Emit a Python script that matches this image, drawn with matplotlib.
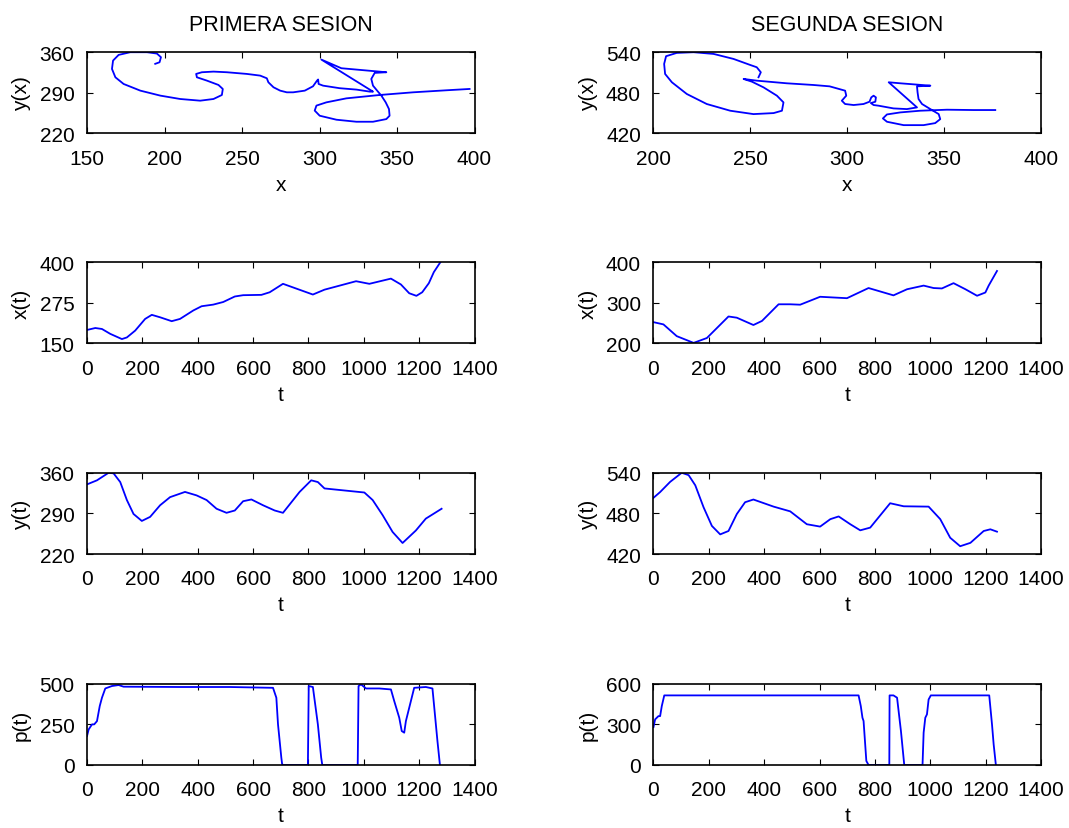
import numpy as np
import matplotlib.pyplot as plt

plt.rcParams['font.family'] = ['Liberation Sans', 'DejaVu Sans']

## Primera sesion: trazo de la firma (x, y)
firma1_x = [194, 196.8, 197.7, 195.1, 188.7, 177.9, 170.4, 166.8, 166.1, 168.3, 173.6, 184.4,
            197.3, 210.1, 223, 231.6, 237, 237.6, 234.8, 227.3, 220.9, 220.4, 224.1, 231.6,
            240.2, 253.1, 261.7, 266, 267, 270.3, 274.6, 278.9, 283, 290.5, 295.8, 298.4,
            299.1, 299.4, 302.3, 313, 323.8, 332.4, 334.5, 301.2, 314.1, 343.1, 335.6, 333.4,
            334.5, 337.7, 339.9, 342.7, 344.8, 345.2, 343.1, 334.5, 323.8, 310.9, 300.1, 296.9,
            298, 304.4, 317.3, 338.8, 360.3, 381.8, 396.8]
firma1_y = [340, 342.7, 351.4, 357.7, 360, 360, 355.4, 345.6, 331.2, 316.8, 305.3, 293.8,
            285.2, 279.4, 276.5, 279.4, 286.3, 296.7, 303.6, 311.1, 316.8, 322.6, 325.5, 326.6,
            325.5, 322.6, 319.7, 315.1, 308.2, 299.6, 293.8, 290.9, 290.9, 293.8, 301.3, 311.1,
            313, 305.3, 302.4, 298, 295.6, 292.1, 292.1, 347.3, 332.4, 325.5, 324.4, 314,
            302.4, 292.1, 285.2, 273.6, 262.1, 250.6, 244.8, 240.2, 240.2, 243.7, 250.6, 259.4,
            268, 273.6, 280.5, 286.3, 290.9, 294.4, 296.7]

## Primera sesion: x(t), y(t), p(t)
tx1 = [0, 30, 54, 84, 126, 144, 174, 210, 234, 264, 306, 336, 384, 414, 456, 492, 534, 564,
       630, 660, 708, 816, 858, 972, 1020, 1098, 1134, 1164, 1190, 1211, 1235, 1253, 1277]
xt1 = [191, 197, 194, 179, 163, 168, 189, 225, 237.5, 230, 218, 225, 251, 264, 269, 277, 294, 298,
       299, 307, 333, 300, 315, 341, 333, 349, 331, 304, 296, 307, 335, 369, 400]
ty1 = [0, 36, 78, 96, 120, 144, 168, 198, 228, 264, 300, 354, 396, 432, 468, 504, 534, 564, 594,
       636, 678, 708, 768, 810, 834, 858, 1002, 1032, 1068, 1104, 1140, 1188, 1224, 1281]
yt1 = [340, 347, 360, 359, 344, 313, 289, 277, 284, 304, 318, 327, 321, 313, 298, 291, 295, 311, 314,
       304, 295, 291, 327, 347, 344, 333, 326, 313, 287, 258, 239, 260.5, 281, 298]
tp1 = [0, 6, 18, 26, 36, 46, 54, 66, 90, 114, 132, 336, 516, 672, 684, 690, 702, 705, 710, 798,
       801, 816, 834, 846, 850, 978, 981, 990, 1008, 1056, 1098, 1110, 1128, 1137, 1146, 1152,
       1170, 1182, 1224, 1248, 1266, 1275]
pt1 = [178, 219, 250, 250, 270, 363, 414, 471, 486, 492, 482, 480, 480, 475, 414, 250, 45, 4, 0, 0,
       486, 480, 250, 45, 0, 0, 486, 496, 471, 471, 465, 393, 291, 209, 199, 270,
       393, 475, 480, 471, 148, 0]

## Segunda sesion: trazo de la firma (x, y)
firma2_x = [254.2, 255.4, 253.3, 249.9, 241.3, 231, 220.7, 212, 206.5, 205.5, 206, 209.5, 217.2,
            227.5, 239.6, 251.6, 262, 266.3, 267.1, 263.7, 256.8, 250.8, 246.5, 253.3, 268.8,
            282.6, 290.9, 298.9, 299.5, 297.2, 298.9, 303.3, 308.4, 311.5, 312.4, 313.6, 314.8,
            314.5, 312.2, 313.6, 316.2, 323.9, 330.8, 336, 321.4, 327.4, 342.9, 336, 336.3,
            336.8, 338.6, 342.9, 347.2, 348, 345.4, 339.4, 329.1, 320.5, 318.4, 320.5, 327.4,
            337.7, 351.5, 365.2, 376.4]
firma2_y = [503, 510.4, 517.8, 521.2, 530.1, 537.5, 540, 539, 534.1, 522.7, 507.9, 495.6, 478.3,
            463.5, 453.6, 448.6, 450.1, 453.6, 465.9, 475.8, 488.1, 496.5, 500.5, 498, 494.1,
            491.6, 489.6, 483.2, 475.8, 468.4, 463.5, 462, 463.5, 466.9, 473.3, 475.8, 473.3,
            466.9, 464.9, 462, 461, 457, 456, 458.5, 495.6, 494.1, 490.6, 489.6, 480.7,
            470.9, 463.5, 456, 448.6, 441.2, 435.3, 432.3, 432.3, 437.3, 442.2, 448.1, 451.1,
            453.6, 455.1, 454.6, 454.6]

## Segunda sesion: x(t), y(t), p(t)
tx2 = [0, 36, 84, 145, 193, 271, 301, 361, 392, 452, 494, 530, 602, 699, 777, 867, 916, 976,
       1012, 1042, 1084, 1127, 1169, 1199, 1211, 1241]
xt2 = [252, 246.5, 217.6, 201, 213, 266, 263, 245, 255, 296, 296, 295, 314.5, 311, 336, 318, 333, 342,
       336, 335, 348, 333, 317, 325, 342, 378]
ty2 = [0, 24, 60, 102, 127, 151, 181, 211, 241, 271, 301, 331, 361, 434, 494, 554, 602, 639, 669,
       711, 747, 783, 855, 904, 994, 1036, 1072, 1108, 1145, 1193, 1217, 1241]
yt2 = [503, 511.5, 526.5, 540, 536.5, 521.5, 489, 461.5, 449, 454, 479, 496.5, 500.5, 490, 483,
       464, 460.5, 471.5, 475.5, 464, 455, 459, 495, 490.5, 490, 471.5, 444, 431.5, 436.5, 454,
       456.5, 453]
tp2 = [0, 6, 18, 24, 30, 39, 741, 749, 755, 759, 769, 777, 852, 853, 867, 880, 894, 906, 972,
       976, 982, 988, 994, 1002, 1213, 1223, 1229, 1237]
pt2 = [280, 337, 361, 361, 435, 514, 514, 435, 349, 325, 30, 0, 0, 514, 514, 497, 251, 0, 0,
       239, 349, 374, 484, 514, 514, 300, 152, 0]


fig = plt.figure(figsize=(10.69, 8.29), dpi=100)

col_left = [0.0814, 0.6113]
col_width = 0.3625
row_bottom = [0.8378, 0.5847, 0.3305, 0.0760]
row_height = 0.0980


def panel(col, row, xs, ys, xlim, ylim, xticks, yticks, xlabel, ylabel):
    ax = fig.add_axes([col_left[col], row_bottom[row], col_width, row_height])
    ax.plot(xs, ys, color='#0000ff', linewidth=1.3)
    ax.set_xlim(xlim)
    ax.set_ylim(ylim)
    ax.set_xticks(xticks)
    ax.set_yticks(yticks)
    ax.tick_params(direction='in', top=True, right=True, length=4, width=0.8,
                   labelsize=15)
    ax.tick_params(axis='x', pad=11)
    ax.tick_params(axis='y', pad=9)
    for s in ax.spines.values():
        s.set_linewidth(1.2)
    ax.set_xlabel(xlabel, fontsize=15, labelpad=5)
    ax.set_ylabel(ylabel, fontsize=15, labelpad=6)
    return ax


t_ticks = np.arange(0, 1401, 200)

# Primera sesion
ax = panel(0, 0, firma1_x, firma1_y, (150, 400), (220, 360), np.arange(150, 401, 50),
           [220, 290, 360], 'x', 'y(x)')
ax.set_title('PRIMERA SESION', fontsize=15.5, pad=16)
panel(0, 1, tx1, xt1, (0, 1400), (150, 400), t_ticks, [150, 275, 400], 't', 'x(t)')
panel(0, 2, ty1, yt1, (0, 1400), (220, 360), t_ticks, [220, 290, 360], 't', 'y(t)')
panel(0, 3, tp1, pt1, (0, 1400), (0, 500), t_ticks, [0, 250, 500], 't', 'p(t)')

# Segunda sesion
ax = panel(1, 0, firma2_x, firma2_y, (200, 400), (420, 540), np.arange(200, 401, 50),
           [420, 480, 540], 'x', 'y(x)')
ax.set_title('SEGUNDA SESION', fontsize=15.5, pad=16)
panel(1, 1, tx2, xt2, (0, 1400), (200, 400), t_ticks, [200, 300, 400], 't', 'x(t)')
panel(1, 2, ty2, yt2, (0, 1400), (420, 540), t_ticks, [420, 480, 540], 't', 'y(t)')
panel(1, 3, tp2, pt2, (0, 1400), (0, 600), t_ticks, [0, 300, 600], 't', 'p(t)')

plt.savefig('out.png', dpi=100)
plt.close()
